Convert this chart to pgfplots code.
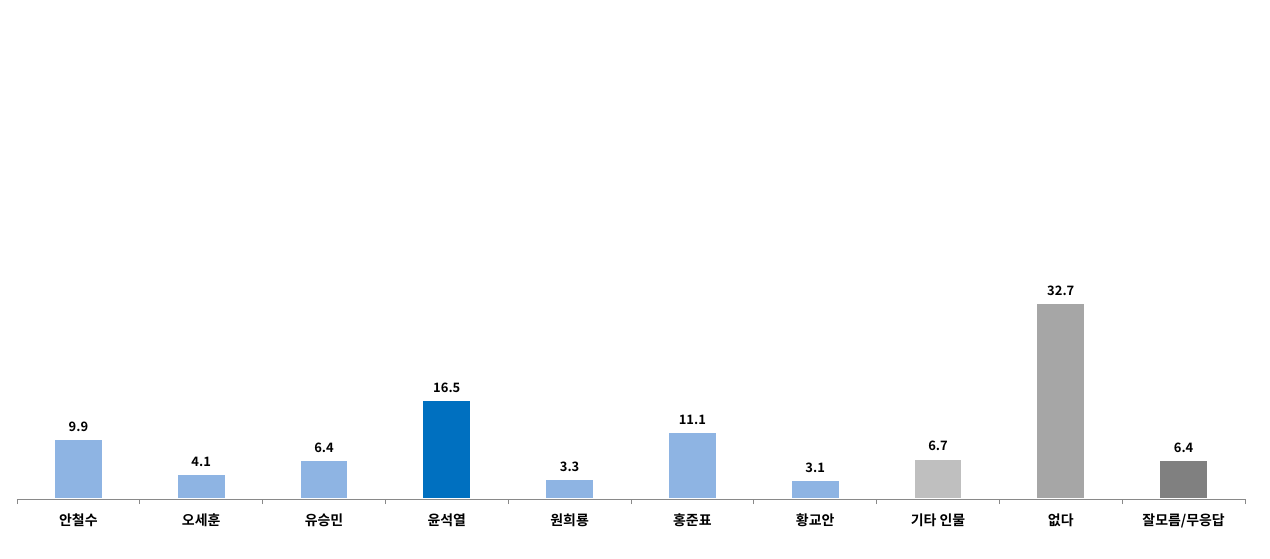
\documentclass[border=0pt]{standalone}
\usepackage{fontspec}
\setmainfont{Noto Sans CJK KR}[BoldFont={Noto Sans CJK KR Bold}]
\usepackage{pgfplots}
\pgfplotsset{compat=1.18}
\definecolor{lblue}{HTML}{8EB4E3}
\definecolor{dblue}{HTML}{0070C0}
\definecolor{lgray}{HTML}{BFBFBF}
\definecolor{mgray}{HTML}{A6A6A6}
\definecolor{dgray}{HTML}{808080}
\definecolor{axisgray}{HTML}{898989}
\begin{document}
\begin{tikzpicture}
\begin{axis}[
    at={(0,0)}, anchor=south west,
    scale only axis,
    width=1228bp, height=499bp,
    xmin=-0.5, xmax=9.5,
    ymin=0, ymax=83.5,
    axis x line=bottom,
    axis y line=none,
    axis on top,
    axis line style={-, axisgray, line width=0.8pt},
    xtick={0,...,9},
    xticklabels={안철수, 오세훈, 유승민, 윤석열, 원희룡, 홍준표, 황교안, 기타 인물, 없다, 잘모름/무응답},
    major tick length=0pt,
    minor xtick={-0.5,0.5,...,9.5},
    minor tick length=5bp,
    tick align=outside,
    minor tick style={axisgray, line width=0.8pt},
    xticklabel style={font=\fontsize{14}{16}\selectfont\bfseries, yshift=-11bp},
    ybar, bar width=48bp, bar shift=0pt,
    every axis plot/.append style={draw=white, line width=1.2pt},
    nodes near coords,
    nodes near coords style={font=\fontsize{13}{15}\selectfont\bfseries, black, yshift=4bp,
        /pgf/number format/.cd, fixed, fixed zerofill, precision=1, assume math mode=true},
    clip=false,
]
\addplot[fill=lblue] coordinates {(0,9.9) (1,4.1) (2,6.4) (4,3.3) (5,11.1) (6,3.1)};
\addplot[fill=dblue] coordinates {(3,16.5)};
\addplot[fill=lgray] coordinates {(7,6.7)};
\addplot[fill=mgray] coordinates {(8,32.7)};
\addplot[fill=dgray] coordinates {(9,6.4)};
\end{axis}
\path[use as bounding box] (-17bp,-60bp) rectangle (1253bp,499bp);
\end{tikzpicture}
\end{document}
